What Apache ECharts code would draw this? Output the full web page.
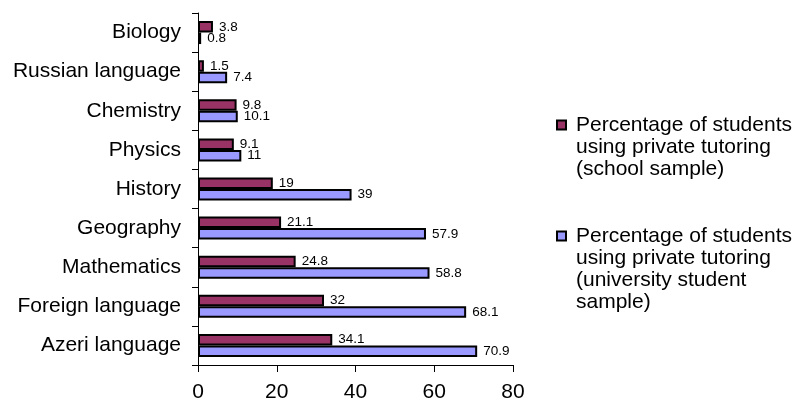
<!DOCTYPE html>
<html>
<head>
<meta charset="utf-8">
<script src="https://cdn.jsdelivr.net/npm/echarts@6/dist/echarts.min.js"></script>
<style>
    html, body { margin: 0; padding: 0; background: #fff; }
    #chart { width: 796px; height: 402px; }
</style>
</head>
<body>
<div id="chart"></div>
<script>
/* ===========================
   Data (top to bottom)
=========================== */

const subjects = [
    "Biology", "Russian language", "Chemistry", "Physics", "History",
    "Geography", "Mathematics", "Foreign language", "Azeri language"
];

const schoolValues = [3.8, 1.5, 9.8, 9.1, 19, 21.1, 24.8, 32, 34.1];

const universityValues = [0.8, 7.4, 10.1, 11, 39, 57.9, 58.8, 68.1, 70.9];

const xTicks = [0, 20, 40, 60, 80];

const schoolName = "Percentage of students\nusing private tutoring\n(school sample)";
const universityName = "Percentage of students\nusing private tutoring\n(university student\nsample)";

const FONT = "Arial, 'Liberation Sans', sans-serif";

/* ===========================
   Chart
=========================== */

const chart = echarts.init(document.getElementById("chart"));

function barSeries(name, data, color) {
    return {
        name: name,
        type: "bar",
        data: data,
        barWidth: 11.5,
        barGap: "0%",
        itemStyle: {
            color: color,
            borderColor: "#000",
            borderWidth: 2
        },
        label: {
            show: true,
            position: "right",
            distance: 6,
            color: "#000",
            fontFamily: FONT,
            fontSize: 13.5
        }
    };
}

// legend icon sits next to the first line: pad the text block with
// empty lines above so that its centre falls on the first line
function legendBlock(name, top) {
    const lines = name.split("\n").length;
    return {
        orient: "vertical",
        left: 556,
        top: top,
        padding: 0,
        icon: "rect",
        itemWidth: 9,
        itemHeight: 9,
        data: [name],
        formatter: n => "\n".repeat(lines - 1) + n,
        textStyle: {
            color: "#000",
            fontFamily: FONT,
            fontSize: 21,
            lineHeight: 22,
            padding: [0, 0, 0, 5]
        }
    };
}

chart.setOption({
    animation: false,
    grid: {
        left: 198,
        right: 283,
        top: 13,
        bottom: 37,
        containLabel: false,
        outerBoundsMode: "none"
    },
    legend: [
        legendBlock(schoolName, 70),
        legendBlock(universityName, 159)
    ],
    xAxis: {
        type: "value",
        min: xTicks[0],
        max: xTicks[xTicks.length - 1],
        interval: 20,
        axisLine: { show: true, lineStyle: { color: "#000", width: 1 } },
        axisTick: { show: true, length: 7, lineStyle: { color: "#000" } },
        splitLine: { show: false },
        axisLabel: {
            color: "#000",
            fontFamily: FONT,
            fontSize: 21,
            margin: 17
        }
    },
    yAxis: {
        type: "category",
        inverse: true,
        data: subjects,
        axisLine: { show: true, lineStyle: { color: "#000", width: 1 } },
        axisTick: { show: true, length: 6, lineStyle: { color: "#000" } },
        axisLabel: {
            color: "#000",
            fontFamily: FONT,
            fontSize: 21,
            margin: 17
        }
    },
    series: [
        barSeries(schoolName, schoolValues, "#993366"),
        barSeries(universityName, universityValues, "#9999FF")
    ]
});
</script>
</body>
</html>
